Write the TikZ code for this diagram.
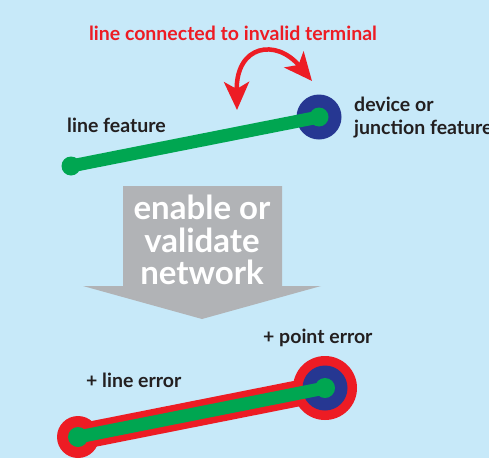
\documentclass[tikz,border=0pt]{standalone}
\usepackage{fontspec}
\setmainfont{Lato}
\usetikzlibrary{arrows.meta}

\definecolor{bgblue}{RGB}{199,233,249}
\definecolor{featgreen}{RGB}{0,166,81}
\definecolor{junctblue}{RGB}{38,55,146}
\definecolor{errred}{RGB}{237,28,36}
\definecolor{arrowgray}{RGB}{177,179,182}
\definecolor{txtdark}{RGB}{35,31,32}

\begin{document}
\begin{tikzpicture}[x=1pt,y=-1pt,
    caption/.style={text=txtdark,inner sep=0pt,anchor=west,align=left,
      font=\bfseries\fontsize{19.5}{23}\selectfont},
    feature/.style={featgreen,line width=13pt},
    errline/.style={errred,line width=26pt}]
  % Background
  \fill[bgblue] (0,0) rectangle (489,458);
  \useasboundingbox (0,0) rectangle (489,458);

  % Before: line and junction
  \coordinate (lineA) at (71,166);
  \coordinate (juncA) at (319,117);
  \fill[junctblue] (juncA) circle (22.5);
  \draw[feature] (lineA) -- (juncA);
  \fill[featgreen] (lineA) circle (9.5);
  \fill[featgreen] (juncA) circle (9.5);

  \node[caption] (linelbl) at (67,125) {line feature};
  \node[caption] (junclbl) at (354,118) {device or\\junction feature};

  % Invalid terminal arrow
  \node[text=errred,inner sep=0pt,font=\bfseries\fontsize{19.5}{23}\selectfont]
    (termlbl) at (233,33) {line connected to invalid terminal};
  \coordinate (tipL) at (237,110);
  \coordinate (tipR) at (312,81);
  \draw[errred,line width=4.5pt,
    {Stealth[length=28pt,width=25pt,inset=7pt]}-{Stealth[length=28pt,width=25pt,inset=7pt]}]
    (tipL) .. controls (236,45) and (276,38) .. (tipR);

  % Enable or validate
  \fill[arrowgray] (123,186) -- (282,186) -- (282,286) -- (321,286)
    -- (202,319) -- (83,286) -- (123,286) -- cycle;
  \node[text=white,inner sep=0pt,align=center,
    font=\bfseries\fontsize{33}{32.5}\selectfont] (steplbl) at (202,240)
    {enable or\\validate\\network};

  % After: errors
  \coordinate (lineB) at (78,437);
  \coordinate (juncB) at (325,388);
  \fill[errred] (juncB) circle (32);
  \fill[errred] (lineB) circle (21);
  \draw[errline] (lineB) -- (juncB);
  \fill[junctblue] (juncB) circle (22.5);
  \draw[feature] (lineB) -- (juncB);
  \fill[featgreen] (lineB) circle (10);
  \fill[featgreen] (juncB) circle (10);

  \node[caption] (pointlbl) at (263,338) {+ point error};
  \node[caption] (errlbl) at (86,380) {+ line error};
\end{tikzpicture}
\end{document}
